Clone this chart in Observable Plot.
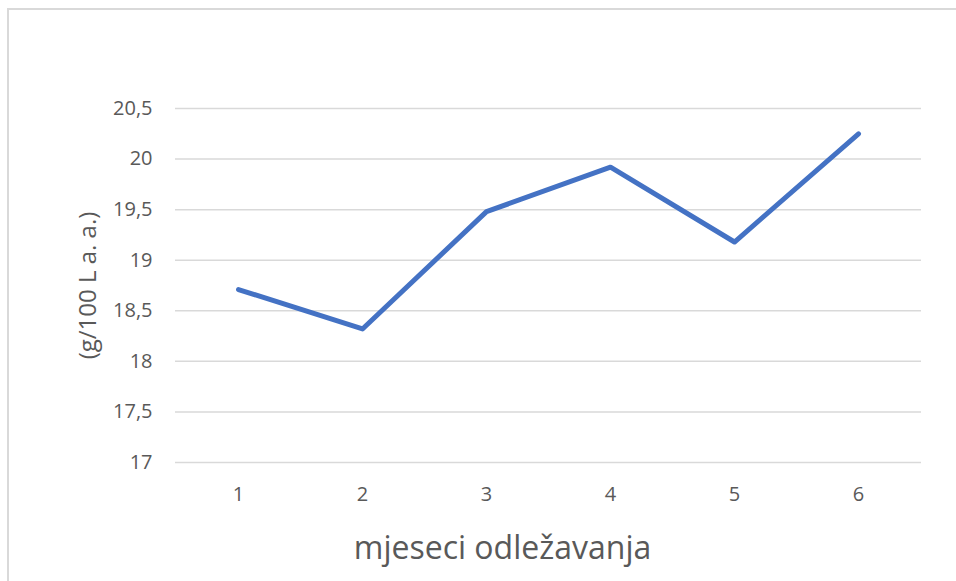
<!DOCTYPE html>
<html>
<head>
<meta charset="utf-8">
<script src="https://cdn.jsdelivr.net/npm/d3@7"></script>
<script src="https://cdn.jsdelivr.net/npm/@observablehq/plot@0.6"></script>
<style>
  html, body { margin: 0; padding: 0; background: #fff; }
  body { width: 956px; height: 581px; overflow: hidden; position: relative; }
  #frame { position: absolute; left: 7px; top: 8px; width: 1000px; height: 700px; border: 2px solid #d9d9d9; box-sizing: border-box; }
  #chart { position: absolute; left: 0; top: 0; }
</style>
</head>
<body>
<div id="frame"></div>
<div id="chart"></div>
<script>
const months = ["1", "2", "3", "4", "5", "6"];
const values = [18.71, 18.32, 19.48, 19.92, 19.18, 20.25];
const yTicks = [17, 17.5, 18, 18.5, 19, 19.5, 20, 20.5];
const yLabel = "(g/100 L a. a.)";
const xLabel = "mjeseci odležavanja";

const data = months.map((m, i) => ({month: m, value: values[i]}));
const fontFamily = "'Open Sans', 'Noto Sans', sans-serif";
const textColor = "#595959";

const chart = Plot.plot({
  width: 956,
  height: 581,
  marginLeft: 175,
  marginRight: 35,
  marginTop: 108,
  marginBottom: 119,
  style: {fontFamily, color: textColor, background: "transparent", overflow: "visible"},
  x: {type: "point", domain: months, padding: 0.5},
  y: {domain: [17, 20.5]},
  marks: [
    Plot.gridY(yTicks, {stroke: "#d9d9d9", strokeOpacity: 1, strokeWidth: 1.5}),
    Plot.axisY(yTicks, {
      tickSize: 0, tickPadding: 23, fontSize: 20, fill: textColor,
      tickFormat: d => String(d).replace(".", ","), label: null
    }),
    Plot.axisX({
      tickSize: 0, tickPadding: 24, fontSize: 20, fill: textColor, label: null
    }),
    Plot.line(data, {x: "month", y: "value", stroke: "#4472c4", strokeWidth: 5,
      strokeLinecap: "round", strokeLinejoin: "round"}),
    Plot.text([yLabel], {frameAnchor: "left", textAnchor: "middle", dx: -87, rotate: -90,
      fontSize: 24, fill: textColor, text: d => d}),
    Plot.text([xLabel], {frameAnchor: "bottom", dx: -46, dy: 96, fontSize: 32,
      fill: textColor, text: d => d})
  ]
});
document.getElementById("chart").appendChild(chart);
</script>
</body>
</html>
